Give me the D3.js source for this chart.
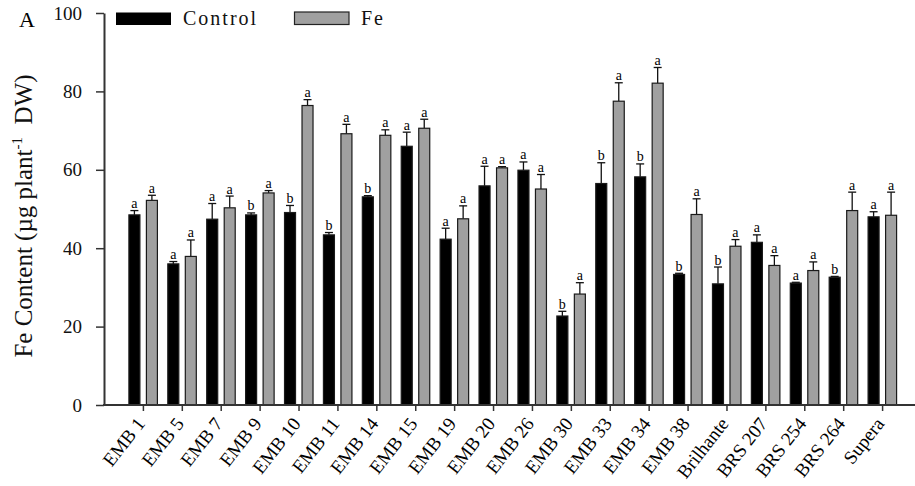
<!DOCTYPE html>
<html><head><meta charset="utf-8">
<script src="https://cdn.jsdelivr.net/npm/d3@7"></script>
<style>body{margin:0;background:#fff}svg{display:block}svg text{font-family:"Liberation Serif","Times New Roman",serif}</style>
</head><body><svg id="c" width="915" height="486"></svg>
<script>
const categories = ["EMB 1","EMB 5","EMB 7","EMB 9","EMB 10","EMB 11","EMB 14","EMB 15","EMB 19","EMB 20","EMB 26","EMB 30","EMB 33","EMB 34","EMB 38","Brilhante","BRS 207","BRS 254","BRS 264","Supera"];
const controlValues = [48.5,36.0,47.4,48.5,49.1,43.4,53.1,66.0,42.3,55.9,59.9,22.7,56.5,58.2,33.3,30.9,41.5,31.1,32.6,48.0];
const controlErrors = [1.1,0.6,4.0,0.5,1.8,0.6,0.3,3.6,2.8,5.0,2.1,1.2,5.3,3.3,0.3,4.3,1.9,0.2,0.2,1.3];
const controlLetters = ["a","a","a","b","b","b","b","a","a","a","a","b","b","b","b","b","a","a","b","a"];
const feValues = [52.2,37.9,50.3,54.1,76.4,69.2,68.8,70.6,47.5,60.5,55.1,28.3,77.5,82.1,48.6,40.5,35.6,34.3,49.6,48.4];
const feErrors = [1.3,4.2,3.0,0.6,1.5,2.4,1.4,2.3,3.3,0.3,3.7,2.9,4.7,4.0,4.0,1.7,2.5,2.2,4.7,5.9];
const feLetters = ["a","a","a","a","a","a","a","a","a","a","a","a","a","a","a","a","a","a","a","a"];
const yTicks = [0,20,40,60,80,100];

const svg = d3.select("#c");
const x = d3.scalePoint().domain(categories).range([104, 921]).padding(1);
const y = d3.scaleLinear().domain([0,100]).range([405, 13]);

const series = [
  {name:"Control", vals:controlValues, errs:controlErrors, lets:controlLetters, fill:"#000", off:-14},
  {name:"Fe", vals:feValues, errs:feErrors, lets:feLetters, fill:"#a0a0a0", off:3.5}
];
const bw = 11;

series.forEach(s => {
  const g = svg.append("g");
  categories.forEach((c,i) => {
    const x0 = x(c) + s.off;
    const v = s.vals[i], e = s.errs[i];
    const cx = x0 + bw/2;
    g.append("line").attr("x1",cx).attr("x2",cx).attr("y1",y(v)).attr("y2",y(v+e)).attr("stroke","#111").attr("stroke-width",1.3);
    g.append("line").attr("x1",cx-4).attr("x2",cx+4).attr("y1",y(v+e)).attr("y2",y(v+e)).attr("stroke","#111").attr("stroke-width",1.3);
    g.append("rect").attr("x",x0).attr("y",y(v)).attr("width",bw).attr("height",y(0)-y(v))
      .attr("fill",s.fill).attr("stroke","#1a1a1a").attr("stroke-width",1.2);
    g.append("text").attr("x",cx).attr("y",y(v+e)-2.5).attr("text-anchor","middle")
      .attr("font-size",14).attr("fill","#000").text(s.lets[i]);
  });
});

// axes
const yAxis = d3.axisLeft(y).tickValues(yTicks).tickSize(8).tickPadding(14).tickSizeOuter(0);
const gy = svg.append("g").attr("transform","translate(104,0)").call(yAxis).attr("font-family",null).attr("font-size",19);
gy.select(".domain").attr("stroke","#333").attr("stroke-width",2);
gy.selectAll(".tick line").attr("stroke","#333").attr("stroke-width",1.5);
gy.selectAll(".tick text").attr("fill","#111");

const xAxis = d3.axisBottom(x).tickSize(6).tickSizeOuter(0).tickFormat("");
const gx = svg.append("g").attr("transform","translate(0,405)").call(xAxis);
gx.select(".domain").attr("stroke","#333").attr("stroke-width",2).attr("d","M103,0H915");
gx.selectAll(".tick line").attr("stroke","#333").attr("stroke-width",1.5);

categories.forEach(c => {
  svg.append("text").attr("transform",`translate(${x(c)+3},424) rotate(-52)`)
    .attr("text-anchor","end").attr("font-size",19).attr("fill","#000").text(c);
});

// y label
const yl = svg.append("text").attr("transform","translate(32,216) rotate(-90)").attr("text-anchor","middle")
  .attr("font-size",25).attr("fill","#111");
yl.append("tspan").text("Fe Content (\u00B5g plant");
yl.append("tspan").attr("font-size",15).attr("dy",-10).text("-1");
yl.append("tspan").attr("dy",10).text("\u00A0 DW)");

// panel letter
svg.append("text").attr("x",19).attr("y",27).attr("font-size",22).attr("fill","#000").text("A");

// legend
svg.append("rect").attr("x",116).attr("y",12.5).attr("width",55).attr("height",12.5).attr("fill","#000");
svg.append("text").attr("x",183).attr("y",25).attr("font-size",20).attr("letter-spacing",2).attr("fill","#111").text("Control");
svg.append("rect").attr("x",294.5).attr("y",12).attr("width",54.5).attr("height",12.5).attr("fill","#a0a0a0").attr("stroke","#222").attr("stroke-width",1.2);
svg.append("text").attr("x",361).attr("y",25).attr("font-size",20).attr("letter-spacing",2).attr("fill","#111").text("Fe");
</script></body></html>
